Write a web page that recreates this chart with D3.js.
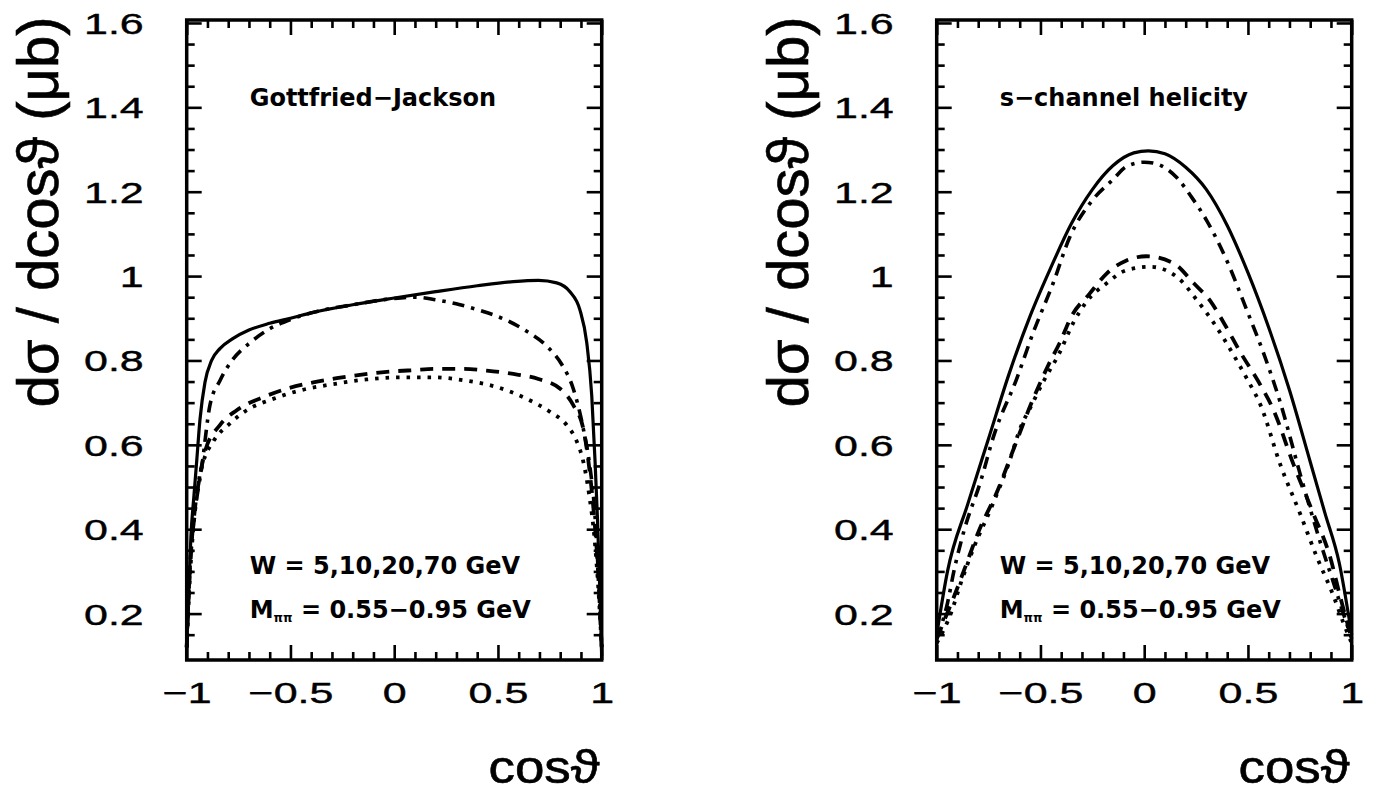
<!DOCTYPE html>
<html>
<head>
<meta charset="utf-8">
<script src="https://cdn.jsdelivr.net/npm/d3@7.9.0/dist/d3.min.js"></script>
<style>
  body { margin: 0; background: #fff; }
  svg { display: block; }
</style>
</head>
<body>
<svg id="chart" width="1378" height="793"></svg>
<script>
// axis ticks
const xTicks = [-1, -0.5, 0, 0.5, 1];
const xMinorTicks = [-0.9, -0.8, -0.7, -0.6, -0.4, -0.3, -0.2, -0.1, 0.1, 0.2, 0.3, 0.4, 0.6, 0.7, 0.8, 0.9];
const yTicks = [0.2, 0.4, 0.6, 0.8, 1, 1.2, 1.4, 1.6];
const yMinorTicks = [0.15, 0.25, 0.3, 0.35, 0.45, 0.5, 0.55, 0.65, 0.7, 0.75, 0.85, 0.9, 0.95,
  1.05, 1.1, 1.15, 1.25, 1.3, 1.35, 1.45, 1.5, 1.55];

// Gottfried-Jackson frame, [cos(theta), dsigma/dcos]
const gjSolid = [[-1, 0.12], [-0.99, 0.25], [-0.98, 0.38], [-0.965, 0.48], [-0.952, 0.56], [-0.936, 0.66],
  [-0.912, 0.748], [-0.88, 0.8], [-0.84, 0.828], [-0.78, 0.851], [-0.7, 0.872], [-0.6, 0.888],
  [-0.5, 0.9], [-0.39, 0.914], [-0.2, 0.932], [0, 0.948], [0.2, 0.963], [0.4, 0.977], [0.574, 0.987],
  [0.695, 0.99], [0.783, 0.984], [0.847, 0.963], [0.895, 0.92], [0.928, 0.842], [0.952, 0.717],
  [0.968, 0.561], [0.98, 0.42], [0.99, 0.27], [1, 0.1]];
const gjDashDot = [[-1, 0.12], [-0.985, 0.3], [-0.96, 0.44], [-0.928, 0.545], [-0.888, 0.694],
  [-0.84, 0.752], [-0.783, 0.799], [-0.695, 0.842], [-0.6, 0.875], [-0.5, 0.897], [-0.39, 0.914],
  [-0.2, 0.932], [0, 0.947], [0.1, 0.95], [0.198, 0.944], [0.317, 0.932], [0.43, 0.916], [0.534, 0.897],
  [0.639, 0.869], [0.735, 0.834], [0.807, 0.791], [0.863, 0.733], [0.911, 0.639], [0.944, 0.545],
  [0.965, 0.45], [0.98, 0.33], [1, 0.12]];
const gjDashed = [[-1, 0.12], [-0.985, 0.3], [-0.96, 0.45], [-0.935, 0.53], [-0.912, 0.584],
  [-0.84, 0.647], [-0.759, 0.682], [-0.631, 0.713], [-0.518, 0.733], [-0.39, 0.748], [-0.277, 0.758],
  [-0.165, 0.766], [-0.036, 0.773], [0.092, 0.777], [0.205, 0.78], [0.333, 0.78], [0.446, 0.776],
  [0.574, 0.768], [0.695, 0.756], [0.8, 0.733], [0.863, 0.694], [0.911, 0.639], [0.936, 0.561],
  [0.96, 0.45], [0.98, 0.32], [1, 0.12]];
const gjDotted = [[-1, 0.12], [-0.985, 0.28], [-0.965, 0.42], [-0.94, 0.52], [-0.92, 0.56],
  [-0.872, 0.608], [-0.791, 0.651], [-0.711, 0.682], [-0.583, 0.709], [-0.454, 0.729], [-0.293, 0.744],
  [-0.133, 0.755], [0.028, 0.76], [0.188, 0.76], [0.349, 0.752], [0.494, 0.737], [0.639, 0.709],
  [0.751, 0.678], [0.831, 0.647], [0.88, 0.608], [0.911, 0.561], [0.94, 0.48], [0.965, 0.38],
  [0.985, 0.25], [1, 0.12]];

// s-channel helicity frame
const shSolid = [[-1, 0.15], [-0.948, 0.3], [-0.85, 0.46], [-0.75, 0.615], [-0.65, 0.77], [-0.55, 0.905],
  [-0.45, 1.02], [-0.35, 1.125], [-0.25, 1.205], [-0.15, 1.262], [-0.05, 1.292], [0.02, 1.297],
  [0.1, 1.29], [0.2, 1.258], [0.3, 1.205], [0.4, 1.12], [0.5, 1.008], [0.6, 0.878], [0.7, 0.73],
  [0.8, 0.56], [0.87, 0.44], [0.94, 0.32], [1, 0.15]];
const shDashDot = [[-1, 0.14], [-0.948, 0.225], [-0.916, 0.303], [-0.868, 0.397], [-0.788, 0.514],
  [-0.724, 0.623], [-0.615, 0.756], [-0.535, 0.866], [-0.439, 0.983], [-0.359, 1.092], [-0.246, 1.182],
  [-0.15, 1.229], [-0.085, 1.26], [0, 1.27], [0.043, 1.268], [0.158, 1.233], [0.23, 1.186],
  [0.302, 1.131], [0.398, 1.037], [0.494, 0.92], [0.574, 0.819], [0.656, 0.7], [0.752, 0.53],
  [0.848, 0.37], [0.913, 0.272], [0.96, 0.2], [1, 0.14]];
const shDashed = [[-1, 0.14], [-0.95, 0.2], [-0.916, 0.241], [-0.868, 0.303], [-0.796, 0.397],
  [-0.707, 0.491], [-0.628, 0.592], [-0.541, 0.702], [-0.463, 0.788], [-0.407, 0.842], [-0.35, 0.905],
  [-0.262, 0.959], [-0.181, 1.006], [-0.085, 1.037], [0.011, 1.047], [0.143, 1.03], [0.239, 0.983],
  [0.32, 0.94], [0.384, 0.889], [0.464, 0.819], [0.561, 0.741], [0.62, 0.686], [0.72, 0.553],
  [0.816, 0.436], [0.896, 0.334], [0.944, 0.241], [1, 0.14]];
const shDotted = [[-1, 0.13], [-0.932, 0.2], [-0.884, 0.272], [-0.82, 0.358], [-0.736, 0.452],
  [-0.655, 0.553], [-0.591, 0.647], [-0.551, 0.686], [-0.487, 0.749], [-0.407, 0.819], [-0.342, 0.889],
  [-0.277, 0.94], [-0.181, 0.983], [-0.085, 1.014], [0.03, 1.022], [0.158, 0.998], [0.254, 0.943],
  [0.335, 0.889], [0.415, 0.826], [0.496, 0.756], [0.561, 0.694], [0.656, 0.553], [0.752, 0.436],
  [0.832, 0.334], [0.913, 0.241], [0.96, 0.178], [1, 0.13]];

const frameLabels = ["Gottfried\u2212Jackson", "s\u2212channel helicity"];
const energyLabel = "W = 5,10,20,70 GeV";
const massLabel = ["M", "\u03c0\u03c0", " = 0.55\u22120.95 GeV"];

const svg = d3.select("#chart");
const frame = { top: 20, bottom: 660, width: 415 };
const tickFont = "'Liberation Sans', Arial, sans-serif";
const boldFont = "'DejaVu Sans', sans-serif";

const lineStyles = [
  { dash: null, width: 3.2 },
  { dash: "12,7,3.5,7", width: 3.6 },
  { dash: "13,9", width: 3.8 },
  { dash: "3.5,7", width: 3.8 },
];

const panels = [
  { left: 186.7, label: frameLabels[0], series: [gjSolid, gjDashDot, gjDashed, gjDotted] },
  { left: 936.7, label: frameLabels[1], series: [shSolid, shDashDot, shDashed, shDotted] },
];

const fmt = (d) => d3.format("~g")(d);

function styleAxis(g) {
  g.select(".domain").remove();
  g.selectAll(".tick line").attr("stroke", "#000").attr("stroke-width", 2.6);
}

function drawPanel(p) {
  const x = d3.scaleLinear().domain([-1, 1]).range([p.left, p.left + frame.width]);
  const y = d3.scaleLinear().domain([0.09, 1.607]).range([frame.bottom, frame.top]);
  const g = svg.append("g");

  // minor ticks on all sides
  const minor = [
    [d3.axisBottom(x).tickValues(xMinorTicks), `translate(0,${frame.bottom})`],
    [d3.axisTop(x).tickValues(xMinorTicks), `translate(0,${frame.top})`],
    [d3.axisLeft(y).tickValues(yMinorTicks), `translate(${p.left},0)`],
    [d3.axisRight(y).tickValues(yMinorTicks), `translate(${p.left + frame.width},0)`],
  ];
  for (const [axis, tr] of minor) {
    g.append("g").attr("transform", tr)
      .call(axis.tickSize(-8).tickFormat(""))
      .call(styleAxis);
  }

  // major ticks
  g.append("g").attr("transform", `translate(0,${frame.top})`)
    .call(d3.axisTop(x).tickValues(xTicks).tickSize(-15).tickFormat(""))
    .call(styleAxis);
  g.append("g").attr("transform", `translate(${p.left + frame.width},0)`)
    .call(d3.axisRight(y).tickValues(yTicks).tickSize(-15).tickFormat(""))
    .call(styleAxis);

  const xAxis = g.append("g").attr("transform", `translate(0,${frame.bottom})`)
    .call(d3.axisBottom(x).tickValues(xTicks).tickSize(-15).tickFormat(fmt))
    .call(styleAxis);
  xAxis.selectAll("text")
    .attr("y", 0).attr("dy", null)
    .attr("fill", "#000").attr("stroke", "#000").attr("stroke-width", 0.4)
    .attr("font-family", tickFont).attr("font-size", 29)
    .attr("transform", "translate(0,42.5) scale(1.48,1)");

  const yAxis = g.append("g").attr("transform", `translate(${p.left},0)`)
    .call(d3.axisLeft(y).tickValues(yTicks).tickSize(-15).tickFormat(fmt))
    .call(styleAxis);
  yAxis.selectAll("text")
    .attr("x", 0).attr("dy", "0.36em")
    .attr("fill", "#000").attr("stroke", "#000").attr("stroke-width", 0.4)
    .attr("font-family", tickFont).attr("font-size", 29)
    .attr("transform", "translate(-43,0) scale(1.48,1)");

  // curves
  const line = d3.line()
    .x((d) => x(d[0]))
    .y((d) => y(d[1]))
    .curve(d3.curveMonotoneX);
  p.series.forEach((s, i) => {
    g.append("path")
      .datum(s)
      .attr("d", line)
      .attr("fill", "none")
      .attr("stroke", "#000")
      .attr("stroke-width", lineStyles[i].width)
      .attr("stroke-dasharray", lineStyles[i].dash);
  });

  // frame
  g.append("rect")
    .attr("x", p.left).attr("y", frame.top)
    .attr("width", frame.width).attr("height", frame.bottom - frame.top)
    .attr("fill", "none").attr("stroke", "#000").attr("stroke-width", 3.5);

  // annotations
  const tx = p.left + 63;
  g.append("text").attr("x", tx).attr("y", 106)
    .attr("font-family", boldFont).attr("font-weight", "bold").attr("font-size", 24)
    .text(p.label);
  g.append("text").attr("x", tx).attr("y", 574)
    .attr("font-family", boldFont).attr("font-weight", "bold").attr("font-size", 24)
    .text(energyLabel);
  const m = g.append("text").attr("x", tx).attr("y", 618)
    .attr("font-family", boldFont).attr("font-weight", "bold").attr("font-size", 24);
  m.append("tspan").text(massLabel[0]);
  m.append("tspan").attr("font-size", 12).attr("dy", 4).text(massLabel[1]);
  m.append("tspan").attr("dy", -4).text(massLabel[2]);

  // axis titles
  svg.append("text")
    .attr("transform", `translate(${p.left - 129},212) rotate(-90)`)
    .attr("text-anchor", "middle")
    .attr("stroke", "#000").attr("stroke-width", 0.6)
    .attr("font-family", tickFont).attr("font-size", 58)
    .text("d\u03c3 / dcos\u03d1 (\u03bcb)");
  svg.append("text")
    .attr("transform", `translate(${p.left + frame.width - 2},783) scale(1.15,1)`)
    .attr("text-anchor", "end")
    .attr("stroke", "#000").attr("stroke-width", 0.6)
    .attr("font-family", tickFont).attr("font-size", 46)
    .text("cos\u03d1");
}

panels.forEach(drawPanel);
</script>
</body>
</html>
